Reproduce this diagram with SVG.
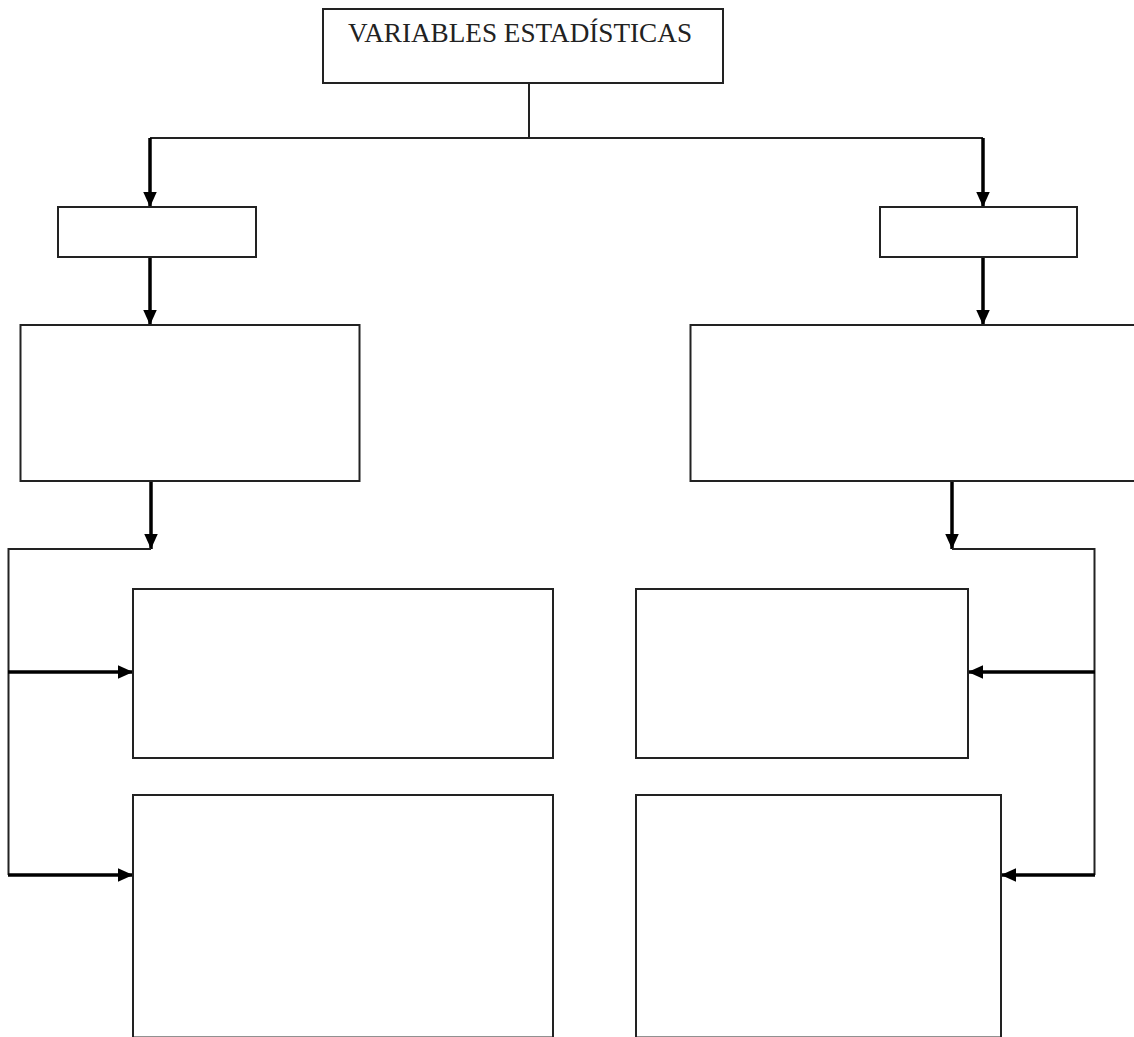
<svg xmlns="http://www.w3.org/2000/svg" width="1134" height="1037" viewBox="0 0 1134 1037">
<defs>
<style>
.box{fill:#fff;stroke:#222;stroke-width:2}
.ln{fill:none;stroke:#222;stroke-width:2}
.ar{fill:none;stroke:#000;stroke-width:3.5}
.t{font-family:"Liberation Serif","Times New Roman",serif;font-size:28px;fill:#222}
</style>
<marker id="ah" viewBox="0 0 10 10" refX="10" refY="5" markerWidth="15" markerHeight="15" markerUnits="userSpaceOnUse" orient="auto">
<path d="M0,0.5 L10,5 L0,9.5 Z" fill="#000"/>
</marker>
</defs>
<rect width="1134" height="1037" fill="#fff"/>
<g id="connectors">
<path class="ln" d="M529,83 V138 M150,138 H983"/>
<path class="ar" d="M150,138 V207" marker-end="url(#ah)"/>
<path class="ar" d="M983,138 V207" marker-end="url(#ah)"/>
<path class="ar" d="M150,257 V325" marker-end="url(#ah)"/>
<path class="ar" d="M983,257 V325" marker-end="url(#ah)"/>
<path class="ar" d="M151,481 V549" marker-end="url(#ah)"/>
<path class="ar" d="M952,481 V549" marker-end="url(#ah)"/>
<path class="ln" d="M151,549 H8.5 V875"/>
<path class="ln" d="M952,549 H1094.5 V875"/>
<path class="ar" d="M8,672 H133" marker-end="url(#ah)"/>
<path class="ar" d="M8,875 H133" marker-end="url(#ah)"/>
<path class="ar" d="M1095,672 H968" marker-end="url(#ah)"/>
<path class="ar" d="M1095,875 H1001" marker-end="url(#ah)"/>
</g>
<g id="node-top">
<rect class="box" x="323" y="9" width="400" height="74"/>
<text class="t" x="348" y="42" textLength="344" lengthAdjust="spacingAndGlyphs">VARIABLES ESTADÍSTICAS</text>
</g>
<g id="node-left-small"><rect class="box" x="58" y="207" width="198" height="50"/></g>
<g id="node-right-small"><rect class="box" x="880" y="207" width="197" height="50"/></g>
<g id="node-left-big"><rect class="box" x="20.5" y="325" width="339" height="156"/></g>
<g id="node-right-big"><rect class="box" x="690.5" y="325" width="460" height="156"/></g>
<g id="node-left-mid"><rect class="box" x="133" y="589" width="420" height="169"/></g>
<g id="node-right-mid"><rect class="box" x="636" y="589" width="332" height="169"/></g>
<g id="node-left-bottom"><rect class="box" x="133" y="795" width="420" height="242.5"/></g>
<g id="node-right-bottom"><rect class="box" x="636" y="795" width="365" height="242.5"/></g>
</svg>
